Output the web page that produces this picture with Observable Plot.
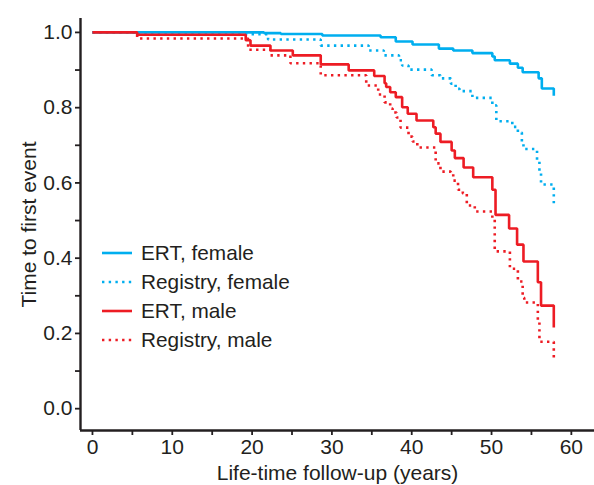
<!DOCTYPE html>
<html><head><meta charset="utf-8">
<script src="https://cdn.jsdelivr.net/npm/d3@7"></script>
<script src="https://cdn.jsdelivr.net/npm/@observablehq/plot@0.6"></script>
<style>
body{margin:0;background:#fff;}
#wrap{position:relative;width:594px;height:485px;font-family:"Liberation Sans",Arial,Helvetica,sans-serif;color:#231f20;}
#legend{position:absolute;left:102px;top:238px;font-size:20.8px;line-height:29px;}
#legend .row{display:flex;align-items:center;height:29px;}
#legend svg{margin-right:9px;}
</style></head><body><div id="wrap"></div>
<script>
const seriesNames = ["ERT, female", "Registry, female", "ERT, male", "Registry, male"];
const seriesColors = ["#00aeef", "#00aeef", "#ed1c24", "#ed1c24"];
const seriesDotted = [false, true, false, true];

const ertFemaleT = [0, 21.5, 23.6, 28.8, 36.1, 38.0, 40.1, 43.4, 45.2, 47.6, 50.1, 50.4, 52.3, 53.3, 53.9, 55.9, 56.3, 57.8];
const ertFemaleS = [1.0, 0.998, 0.996, 0.992, 0.987, 0.976, 0.968, 0.957, 0.952, 0.945, 0.936, 0.926, 0.917, 0.906, 0.894, 0.878, 0.851, 0.832];

const regFemaleT = [0, 5.6, 22.0, 28.6, 34.6, 36.5, 38.4, 38.8, 39.6, 42.5, 43.6, 44.9, 45.5, 46.0, 47.6, 50.1, 50.6, 52.6, 53.3, 53.8, 54.0, 55.7, 56.0, 56.2, 57.8];
const regFemaleS = [1.0, 0.9955, 0.981, 0.965, 0.952, 0.939, 0.926, 0.912, 0.901, 0.886, 0.878, 0.864, 0.850, 0.844, 0.826, 0.806, 0.764, 0.749, 0.734, 0.707, 0.690, 0.660, 0.630, 0.596, 0.543];

const ertMaleT = [0, 5.6, 19.2, 19.8, 22.3, 25.1, 28.6, 32.1, 35.3, 36.6, 36.8, 37.3, 38.0, 38.8, 39.5, 40.6, 42.7, 43.0, 43.6, 45.0, 45.4, 46.5, 47.7, 50.1, 50.5, 52.2, 53.2, 54.0, 55.8, 56.2, 57.8];
const ertMaleS = [1.0, 0.994, 0.979, 0.965, 0.952, 0.939, 0.915, 0.899, 0.884, 0.865, 0.855, 0.841, 0.828, 0.801, 0.784, 0.766, 0.748, 0.731, 0.709, 0.686, 0.666, 0.641, 0.615, 0.582, 0.515, 0.479, 0.436, 0.391, 0.336, 0.274, 0.216];

const regMaleT = [0, 5.6, 19.5, 22.3, 24.8, 28.6, 34.3, 35.8, 36.6, 37.3, 37.6, 38.1, 38.6, 39.6, 40.1, 40.7, 43.0, 43.6, 44.9, 45.2, 45.8, 46.4, 46.9, 47.9, 50.1, 50.4, 52.3, 53.3, 53.9, 54.1, 55.8, 56.0, 57.8];
const regMaleS = [1.0, 0.984, 0.954, 0.939, 0.918, 0.886, 0.859, 0.835, 0.814, 0.798, 0.787, 0.774, 0.747, 0.723, 0.710, 0.694, 0.652, 0.630, 0.625, 0.606, 0.582, 0.572, 0.540, 0.524, 0.503, 0.418, 0.372, 0.338, 0.295, 0.282, 0.231, 0.178, 0.130];

const xTicks = [0, 5, 10, 15, 20, 25, 30, 35, 40, 45, 50, 55, 60];
const yTicks = [0, 0.1, 0.2, 0.3, 0.4, 0.5, 0.6, 0.7, 0.8, 0.9, 1.0];

const allT = [regFemaleT, regMaleT, ertFemaleT, ertMaleT];
const allS = [regFemaleS, regMaleS, ertFemaleS, ertMaleS];
const order = [1, 3, 0, 2];

const xDomain = [-1.5, 62.9];
const yDomain = [-0.058, 1.037];
const ink = "#231f20";

const lineMarks = order.map((si, k) => {
  const rows = allT[k].map((t, i) => ({t, s: allS[k][i]}));
  return Plot.line(rows, {
    x: "t", y: "s", curve: "step-after",
    stroke: seriesColors[si], strokeWidth: 2.6,
    strokeDasharray: seriesDotted[si] ? "2.4,4.3" : null,
    strokeLinejoin: "miter", strokeLinecap: "butt"
  });
});

const chart = Plot.plot({
  width: 594, height: 485,
  marginLeft: 80, marginRight: 0, marginTop: 18, marginBottom: 55,
  style: {fontFamily: '"Liberation Sans", Arial, Helvetica, sans-serif', color: ink, background: "#fff"},
  x: {domain: xDomain},
  y: {domain: yDomain},
  marks: [
    Plot.axisX({ticks: xTicks, tickFormat: d => d % 10 === 0 ? String(d) : "", tickSize: 5, tickPadding: 4,
      strokeWidth: 1.8, fontSize: 21, label: "Life-time follow-up (years)", labelAnchor: "center", labelArrow: false, labelOffset: 49}),
    Plot.axisY({ticks: yTicks, tickFormat: d => Math.round(d * 10) % 2 === 0 ? d.toFixed(1) : "", tickSize: 5, tickPadding: 3,
      strokeWidth: 1.8, fontSize: 21, label: "Time to first event", labelAnchor: "center", labelArrow: false, labelOffset: 59}),
    Plot.ruleX([xDomain[0]], {stroke: ink, strokeWidth: 2.4}),
    Plot.ruleY([yDomain[0]], {stroke: ink, strokeWidth: 2.4}),
    ...lineMarks
  ]
});

const wrap = document.getElementById("wrap");
wrap.appendChild(chart);

const legend = document.createElement("div");
legend.id = "legend";
seriesNames.forEach((name, i) => {
  const row = document.createElement("div");
  row.className = "row";
  const dash = seriesDotted[i] ? 'stroke-dasharray="2.4,4.3"' : "";
  row.innerHTML = `<svg width="30" height="6"><line x1="0" x2="30" y1="3" y2="3" stroke="${seriesColors[i]}" stroke-width="2.6" ${dash}/></svg><span>${name}</span>`;
  legend.appendChild(row);
});
wrap.appendChild(legend);
</script>
</body></html>
